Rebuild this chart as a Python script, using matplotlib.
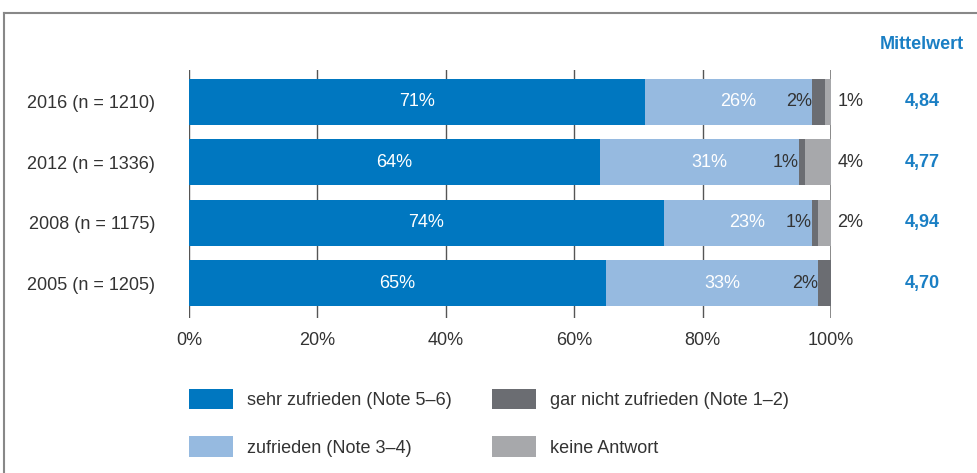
import matplotlib.pyplot as plt
from matplotlib.lines import Line2D
from matplotlib.patches import Patch
import numpy as np

plt.rcParams["font.family"] = ["Liberation Sans", "DejaVu Sans"]

# data
rows = ["2016 (n = 1210)", "2012 (n = 1336)", "2008 (n = 1175)", "2005 (n = 1205)"]
sehr_zufrieden = [71, 64, 74, 65]
zufrieden = [26, 31, 23, 33]
gar_nicht = [2, 1, 1, 2]
keine_antwort = [1, 4, 2, 0]
mittelwert = ["4,84", "4,77", "4,94", "4,70"]

series_names = ["sehr zufrieden (Note 5–6)", "zufrieden (Note 3–4)",
                "gar nicht zufrieden (Note 1–2)", "keine Antwort"]
colors = ["#0077C0", "#96BAE0", "#6B6D72", "#A7A8AB"]
BLUE_TXT = "#1A7FC4"
TXT = "#333333"
FS = 13

fig = plt.figure(figsize=(9.78, 4.73), dpi=100)
ax = fig.add_axes([189 / 978, 1 - 318 / 473, 642 / 978, 248 / 473])

y = np.arange(len(rows))[::-1]
series = [sehr_zufrieden, zufrieden, gar_nicht, keine_antwort]
left = np.zeros(len(rows))
for vals, col in zip(series, colors):
    ax.barh(y, vals, left=left, height=0.76, color=col, zorder=3)
    left += np.array(vals)

# value labels
for i, yy in enumerate(y):
    s, z, g, k = sehr_zufrieden[i], zufrieden[i], gar_nicht[i], keine_antwort[i]
    ax.text(s / 2, yy, f"{s}%", ha="center", va="center", color="white",
            fontsize=FS, zorder=4)
    ax.text(s + z / 2 + 1.5, yy, f"{z}%", ha="center", va="center", color="white",
            fontsize=FS, zorder=4)
    ax.text(s + z, yy, f"{g}%", ha="right", va="center", color=TXT,
            fontsize=FS, zorder=4)
    if k:
        ax.text(101, yy, f"{k}%", ha="left", va="center", color=TXT,
                fontsize=FS, zorder=4)
    ax.text(114.2, yy, mittelwert[i], ha="center", va="center", color=BLUE_TXT,
            fontsize=FS, fontweight="bold", clip_on=False)

ax.text(114.2, 3.95, "Mittelwert", ha="center", va="center", color=BLUE_TXT,
        fontsize=FS, fontweight="bold", clip_on=False)

ax.set_xlim(0, 100)
ax.set_ylim(-0.58, 3.53)
ax.set_xticks([0, 20, 40, 60, 80, 100])
ax.set_xticklabels(["0%", "20%", "40%", "60%", "80%", "100%"], fontsize=FS, color=TXT)
ax.set_yticks(y)
ax.set_yticklabels(rows, fontsize=FS, color=TXT)
ax.tick_params(length=0, pad=10)
ax.tick_params(axis="y", pad=24.5)
for sp in ax.spines.values():
    sp.set_visible(False)
for xv in [0, 20, 40, 60, 80]:
    ax.axvline(xv, color="#555555", lw=1, zorder=1)
ax.axvline(100, color="#666666", lw=1.8, zorder=1)

handles = [Patch(facecolor=c, edgecolor="none") for c in colors]
fig.legend(handles, series_names, ncol=2, frameon=False,
           loc="upper left", bbox_to_anchor=(189 / 978, 1 - 389 / 473),
           fontsize=FS, handlelength=2.44, handleheight=1.35, borderpad=0,
           borderaxespad=0, handletextpad=0.78, columnspacing=2.2,
           labelspacing=1.5, labelcolor=TXT)

# frame lines
fig.add_artist(Line2D([4 / 978, 1], [1 - 13 / 473, 1 - 13 / 473], color="#888888", lw=1.5))
fig.add_artist(Line2D([4 / 978, 4 / 978], [0, 1 - 13 / 473], color="#888888", lw=1.5))

fig.savefig("out.png", dpi=100)
